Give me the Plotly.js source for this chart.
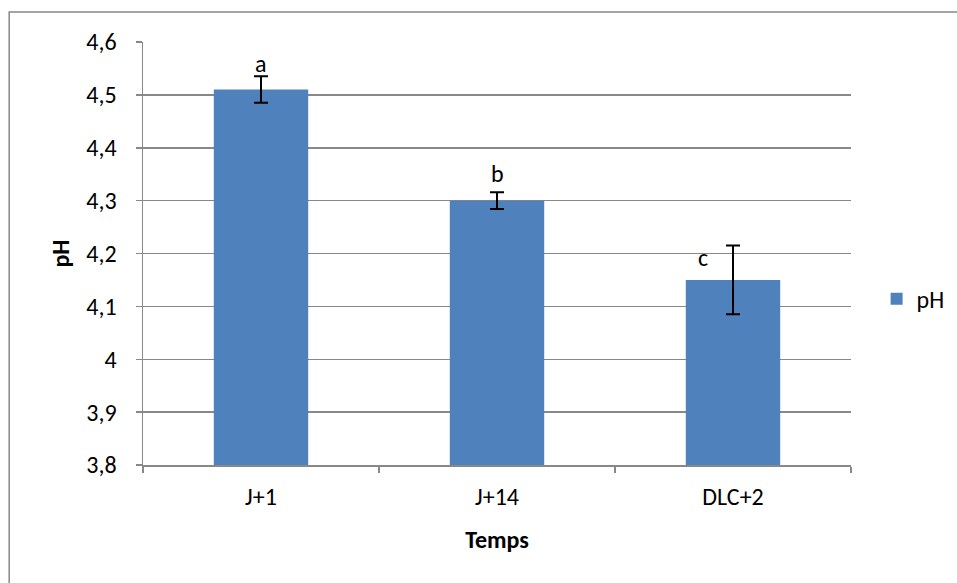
<!DOCTYPE html>
<html>
<head>
<meta charset="utf-8">
<script src="https://cdn.plot.ly/plotly-3.0.1.min.js"></script>
<style>html,body{margin:0;padding:0;background:#fff;}#chart{width:957px;height:583px;}</style>
</head>
<body>
<div id="chart"></div>
<script>
var categories = ['J+1', 'J+14', 'DLC+2'];
var phValues = [4.51, 4.30, 4.15];
var phErrors = [0.025, 0.016, 0.065];
var letters = ['a', 'b', 'c'];
var letterY = [4.56, 4.352, 4.193];
var letterShift = [0, 0, -30];
var yTickVals = [3.8, 3.9, 4.0, 4.1, 4.2, 4.3, 4.4, 4.5, 4.6];
var yTickText = ['3,8', '3,9', '4', '4,1', '4,2', '4,3', '4,4', '4,5', '4,6'];

var FONT = "Carlito, 'Liberation Sans Narrow', Lato, sans-serif";
var FS = 24;

var trace = {
  type: 'bar',
  name: 'pH',
  x: categories,
  y: phValues,
  marker: {color: '#4f81bd'},
  error_y: {type: 'data', array: phErrors, visible: true, color: '#000', thickness: 2, width: 7},
  hoverinfo: 'none'
};

var annotations = categories.map(function (c, i) {
  return {x: c, y: letterY[i], xref: 'x', yref: 'y', text: letters[i], showarrow: false,
          xshift: letterShift[i], yanchor: 'middle', font: {family: FONT, size: FS, color: '#000'}};
});

var layout = {
  width: 957, height: 583,
  margin: {l: 143, r: 106, t: 42, b: 118, autoexpand: false},
  paper_bgcolor: '#fff', plot_bgcolor: '#fff',
  font: {family: FONT, size: FS, color: '#000'},
  separators: ', ',
  bargap: 0.6,
  showlegend: true,
  legend: {xref: 'container', yref: 'container', x: 0.916, y: 0.487, xanchor: 'left', yanchor: 'middle',
           font: {family: FONT, size: FS, color: '#000'}},
  xaxis: {
    type: 'category',
    showline: true, linecolor: '#888', linewidth: 1.5,
    ticks: 'outside', ticklen: 6, tickcolor: '#888', tickwidth: 1.5, tickson: 'boundaries',
    ticklabelstandoff: 10,
    showgrid: false, zeroline: false,
    title: {text: '<b>Temps</b>', font: {family: FONT, size: FS, color: '#000'}, standoff: 21},
    tickfont: {family: FONT, size: FS, color: '#000'}
  },
  yaxis: {
    range: [3.8, 4.6],
    tickvals: yTickVals, ticktext: yTickText,
    showline: true, linecolor: '#888', linewidth: 1.5,
    ticks: 'outside', ticklen: 6, tickcolor: '#888', tickwidth: 1.5,
    ticklabelstandoff: 14,
    showgrid: true, gridcolor: '#888', gridwidth: 1.5, zeroline: false,
    title: {text: '<b>pH</b>', font: {family: FONT, size: FS, color: '#000'}, standoff: 10},
    tickfont: {family: FONT, size: FS, color: '#000'}
  },
  annotations: annotations,
  shapes: [{type: 'rect', xref: 'paper', yref: 'paper', x0: -0.189, x1: 1.2, y0: -0.35, y1: 1.0709,
            line: {color: '#888', width: 1.5}, fillcolor: 'rgba(0,0,0,0)', layer: 'below'}]
};

Plotly.newPlot('chart', [trace], layout, {displayModeBar: false, staticPlot: true});
</script>
</body>
</html>
